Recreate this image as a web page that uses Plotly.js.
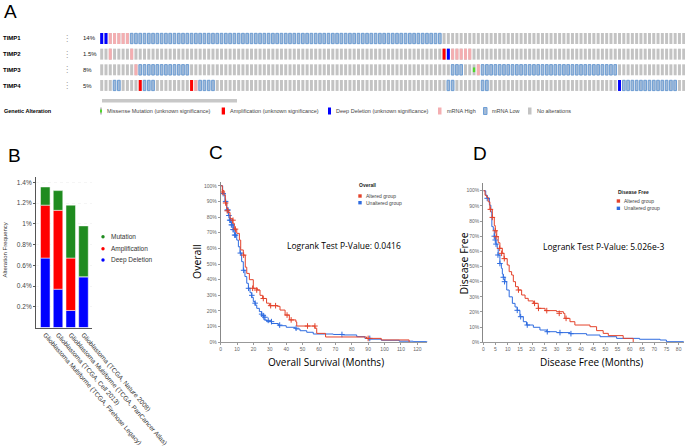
<!DOCTYPE html>
<html><head><meta charset="utf-8">
<script src="https://cdn.plot.ly/plotly-3.0.1.min.js"></script>
<style>html,body{margin:0;padding:0;background:#fff}#chart{width:685px;height:447px}</style>
</head><body><div id="chart"></div>
<script>
// ================= DATA =================
// ---- Panel A: oncoprint ----
const genes = ["TIMP1", "TIMP2", "TIMP3", "TIMP4"];
const genePct = ["14%", "1.5%", "8%", "5%"];
const nSamples = 137;
// runs: [alteration, firstSample, lastSample]
const timp1Runs = [["DEL",0,1],["HIGH",2,6],["LOW",7,79]];
const timp2Runs = [["HIGH",2,2],["HIGH",7,7],["AMP",80,80],["DEL",81,81],["HIGH",82,86]];
const timp3Runs = [["HIGH",8,8],["LOW",9,20],["LOW",82,84],["MIS",87,87],["HIGH",88,88],["LOW",89,120]];
const timp4Runs = [["LOW",3,4],["AMP",9,9],["LOW",10,12],["AMP",21,21],["HIGH",22,22],["LOW",23,26],["LOW",81,82],["LOW",89,90],["DEL",121,121],["LOW",122,134]];
const legendA = ["Missense Mutation (unknown significance)", "Amplification (unknown significance)", "Deep Deletion (unknown significance)", "mRNA High", "mRNA Low", "No alterations"];

// ---- Panel B: alteration frequency (%) ----
const studies = ["Glioblastoma Multiforme (TCGA, Firehose Legacy)", "Glioblastoma (TCGA, Cell 2013)", "Glioblastoma Multiforme (TCGA, PanCancer Atlas)", "Glioblastoma (TCGA, Nature 2008)"];
const deepDeletion = [0.67, 0.37, 0.165, 0.49];
const amplification = [0.51, 0.76, 0.505, 0];
const mutation = [0.175, 0.19, 0.51, 0.49];
const freqTicks = [0.2, 0.4, 0.6, 0.8, 1, 1.2, 1.4];
const freqTickText = ["0.2%", "0.4%", "0.6%", "0.8%", "1%", "1.2%", "1.4%"];

// ---- survival axes ticks ----
const pctTicks = [0, 10, 20, 30, 40, 50, 60, 70, 80, 90, 100];
const pctTickText = ["0%", "10%", "20%", "30%", "40%", "50%", "60%", "70%", "80%", "90%", "100%"];

// ---- Panel C: overall survival (months, % surviving) ----
const osAltT = [0, 1, 2, 2.8, 3.7, 4.5, 5.7, 7.3, 8.3, 9.8, 11.4, 12.2, 13.8, 15, 15.9, 17.5, 19.9, 22.4, 24, 25.6, 28, 29.7, 34.6, 36.2, 39.3, 41.9, 45.9, 46.4, 57.5, 58.6, 64, 89, 98, 115];
const osAltS = [100, 97, 94, 89, 85.5, 83, 79, 76, 72.3, 69.6, 65.3, 59, 55.7, 48, 44, 40, 34.5, 33.4, 30, 28, 25, 23.4, 23, 20.6, 17.4, 14.3, 13, 10.4, 9, 5.7, 3.4, 2.5, 1.5, 0];
const osAltCensT = [1, 3, 4, 7.5, 9, 14, 19.5, 22, 26, 30.5, 33.5, 40.5, 43, 53, 57.5, 90];
const osAltCensS = [96, 89, 84, 78, 72.3, 55.7, 34.5, 33.4, 28, 23.4, 23.4, 17.4, 14.3, 10.4, 10.4, 2.5];
const osUnaT = [0, 1.2, 2.6, 3.7, 4.7, 5.7, 6.7, 7.7, 8.7, 9.8, 10.8, 11.8, 12.8, 13.8, 14.8, 15.9, 16.9, 17.9, 18.9, 19.9, 21, 22, 23.6, 25, 26.4, 28, 31, 35.2, 40, 45.4, 48.4, 52.5, 56.5, 68.7, 74.8, 83, 88, 90, 98, 109, 117.5, 125.7, 127];
const osUnaS = [100, 95, 90, 84.5, 81, 78, 75, 72, 68.5, 65.3, 61, 57, 51.5, 46, 42, 37.7, 34.5, 31.7, 28.7, 26, 23.8, 21.7, 19.6, 17, 14.3, 13.2, 12, 10.6, 9.6, 8.5, 7.4, 6.4, 5.3, 5, 4.7, 3.6, 2.5, 2, 1.3, 0.7, 0.4, 0.2, 0.2];
const osUnaCensT = [1.5, 3, 4, 4.5, 5, 5.5, 6, 6.5, 7, 7.5, 8, 8.5, 9, 12, 14, 17, 19, 21, 25, 26, 27, 29, 31, 36, 46, 74, 91];
const osUnaCensS = [95, 90, 84.5, 84.5, 81, 78, 78, 75, 75, 72, 72, 68.5, 68.5, 57, 46, 34.5, 30, 25, 18, 17, 16, 14, 13.2, 11, 9, 5, 2.5];

// ---- Panel D: disease free (months, % disease free) ----
const dfAltT = [0, 0.7, 1.4, 2, 2.7, 3.7, 4.5, 4.9, 5.5, 6.1, 6.8, 7.8, 8.5, 9.8, 10.6, 11.6, 12.3, 13.2, 14.3, 15.7, 17.1, 18.4, 20.5, 22.5, 25.3, 30, 32.8, 33.4, 35.5, 37.5, 43.7, 46.4, 49.1, 51.2, 57.3, 61.4];
const dfAltS = [100, 97, 95.6, 92.7, 87.7, 82.4, 77, 73.6, 69.7, 65.7, 62, 58.7, 55.2, 51, 46.6, 44.4, 40, 36.7, 34.5, 31.2, 29, 27.3, 25.7, 22.4, 20.9, 20.2, 19.1, 15.8, 13.6, 11.4, 10.3, 7.7, 5.9, 4.4, 2.6, 0];
const dfAltCensT = [2.9, 3.7, 4.9, 5.3, 6.7, 7.5, 8.6, 14.4, 21, 22.6, 26, 31.1, 33.9];
const dfAltCensS = [87.7, 82.4, 73.6, 69.7, 62, 58.7, 55.2, 34.5, 25.7, 22.4, 20.9, 19.1, 15.8];
const dfUnaT = [0, 1, 1.6, 2.5, 3.1, 3.5, 4.1, 4.5, 4.9, 5.2, 5.7, 6.1, 6.8, 7.4, 7.8, 8.2, 8.9, 9.6, 10.6, 11.9, 13, 13.9, 15, 16.4, 17.7, 20.5, 23.2, 26, 30, 35.5, 42.3, 47.8, 54.6, 64, 72.4, 75, 82];
const dfUnaS = [100, 97, 95, 90.5, 86, 76.3, 74, 70, 67.5, 64.8, 62, 57.6, 52, 48.8, 45, 42.9, 40, 34.5, 30, 25.7, 23.3, 21.1, 16.9, 13.6, 11.4, 9.9, 8.1, 7, 6.4, 5.7, 4.8, 3.7, 2.6, 2, 1.5, 0.4, 0.2];
const dfUnaCensT = [1.6, 4.5, 4.9, 5.2, 6, 6.8, 8.2, 8.7, 13.9, 15.3, 18, 26.2, 31.4, 35.9];
const dfUnaCensS = [95, 70, 67.5, 64.8, 57.6, 52, 42.9, 40, 21.1, 16.9, 11.4, 7, 6.4, 5.7];

// ================= DRAWING =================
const W = 685, H = 447;
const px = x => x / W, py = y => 1 - y / H;
const traces = [];

// --- Panel A ---
const allRuns = [timp1Runs, timp2Runs, timp3Runs, timp4Runs];
function cellsOf(type) {
  const x = [], r = [];
  allRuns.forEach((runs, i) => runs.forEach(([t, a, z]) => {
    if (t === type) for (let c = a; c <= z; c++) { x.push(c); r.push(i); }
  }));
  return {x, r};
}
function cellBar(x, r, color, lineColor, lw, h, w) {
  return {type: 'bar', x: x, y: x.map(() => h), base: r.map(v => v - h / 2), width: w,
    xaxis: 'x', yaxis: 'y', marker: {color: color, line: {color: lineColor, width: lw}},
    hoverinfo: 'skip', showlegend: false};
}
{
  const gx = [], gr = [];
  genes.forEach((g, i) => { for (let c = 0; c < nSamples; c++) { gx.push(c); gr.push(i); } });
  traces.push(cellBar(gx, gr, '#c3c3c3', '#c3c3c3', 0, 0.7, 0.7));
  let d = cellsOf('LOW');  traces.push(cellBar(d.x, d.r, '#a3bad6', '#6e9fd6', 1, 0.66, 0.62));
  d = cellsOf('HIGH'); traces.push(cellBar(d.x, d.r, '#f4aeb1', '#f4aeb1', 0, 0.7, 0.7));
  d = cellsOf('AMP');  traces.push(cellBar(d.x, d.r, '#ff0000', '#ff0000', 0, 0.7, 0.7));
  d = cellsOf('DEL');  traces.push(cellBar(d.x, d.r, '#0000ff', '#0000ff', 0, 0.7, 0.7));
  d = cellsOf('MIS');  traces.push(cellBar(d.x, d.r, '#4fd62b', '#4fd62b', 0, 0.3, 0.55));
}

// --- Panel B ---
const delTop = deepDeletion.map((v, i) => v + amplification[i]);
function studyBar(vals, base, color) {
  return {type: 'bar', x: studies, y: vals, base: base, width: 0.75, xaxis: 'x2', yaxis: 'y2',
    marker: {color: color, line: {color: '#ffffff', width: 0.5}}, hoverinfo: 'skip', showlegend: false};
}
traces.push(studyBar(deepDeletion, deepDeletion.map(() => 0), '#0000ff'));
traces.push(studyBar(amplification, deepDeletion, '#ff0000'));
traces.push(studyBar(mutation, delTop, '#1f8b1f'));

// --- Panels C & D ---
const RED = '#e4432b', BLUE = '#2f6ce0';
function km(t, s, color, xa, ya) {
  return {type: 'scatter', mode: 'lines', x: t, y: s, xaxis: xa, yaxis: ya,
    line: {shape: 'hv', color: color, width: 1}, hoverinfo: 'skip', showlegend: false};
}
function cens(t, s, color, xa, ya) {
  return {type: 'scatter', mode: 'markers', x: t, y: s, xaxis: xa, yaxis: ya,
    marker: {symbol: 'cross-thin', size: 4, line: {color: color, width: 1}},
    hoverinfo: 'skip', showlegend: false};
}
traces.push(km(osUnaT, osUnaS, BLUE, 'x3', 'y3'), cens(osUnaCensT, osUnaCensS, BLUE, 'x3', 'y3'));
traces.push(km(osAltT, osAltS, RED, 'x3', 'y3'), cens(osAltCensT, osAltCensS, RED, 'x3', 'y3'));
traces.push(km(dfUnaT, dfUnaS, BLUE, 'x4', 'y4'), cens(dfUnaCensT, dfUnaCensS, BLUE, 'x4', 'y4'));
traces.push(km(dfAltT, dfAltS, RED, 'x4', 'y4'), cens(dfAltCensT, dfAltCensS, RED, 'x4', 'y4'));

// ================= LAYOUT =================
const hidden = {visible: false, showgrid: false, zeroline: false, fixedrange: true};
const ann = [];
const shapes = [];
const FONT = 'Liberation Sans, Arial, sans-serif';
const SEGOE = 'Open Sans, Noto Sans, sans-serif';
function txt(x, y, text, size, opts) {
  ann.push(Object.assign({xref: 'paper', yref: 'paper', x: px(x), y: py(y), text: text, showarrow: false,
    xanchor: 'left', yanchor: 'middle', font: {size: size, color: '#000', family: FONT}}, opts || {}));
}
// panel letters
txt(2, 11.5, 'A', 19); txt(6, 155, 'B', 19); txt(207, 152, 'C', 19); txt(471, 153, 'D', 19);
// oncoprint labels
const rowY = [38.5, 54.2, 69.9, 85.6];
genes.forEach((g, i) => {
  txt(1, rowY[i], '<b>' + g + '</b>', 6);
  txt(67, rowY[i], '⋮', 8, {xanchor: 'center', font: {size: 8, color: '#9a9a9a', family: 'DejaVu Sans'}});
  txt(81, rowY[i], genePct[i], 6, {font: {size: 6, color: '#222', family: FONT}});
});
// scroll bar
shapes.push({type: 'line', xref: 'paper', yref: 'paper', x0: px(102), x1: px(237), y0: py(100.8), y1: py(100.8), line: {color: '#c8c8c8', width: 3.5}});
// oncoprint legend
txt(2, 111, '<b>Genetic Alteration</b>', 5.5);
const legAx = [100, 221.7, 328, 438, 483.5, 528];
const legAw = [2, 3.3, 3, 3.5, 3.5, 3.5];
const legAc = ['#4fd62b', '#ff0000', '#0000ff', '#f4aeb1', '#a3bad6', '#c3c3c3'];
const legAl = ['#4fd62b', '#ff0000', '#0000ff', '#f4aeb1', '#6e9fd6', '#c3c3c3'];
legendA.forEach((t, i) => {
  const h = i === 0 ? 3 : 7;
  if (i === 0) shapes.push({type: 'rect', xref: 'paper', yref: 'paper', x0: px(100), x1: px(102), y0: py(114.5), y1: py(107.5), fillcolor: '#c3c3c3', line: {width: 0}});
  shapes.push({type: 'rect', xref: 'paper', yref: 'paper', x0: px(legAx[i]), x1: px(legAx[i] + legAw[i]),
    y0: py(111 + h / 2), y1: py(111 - h / 2), fillcolor: legAc[i], line: {color: legAl[i], width: i === 4 ? 1 : 0}});
  txt(legAx[i] + legAw[i] + 3, 111, t, 5.5, {font: {size: 5.5, color: '#444', family: FONT}});
});
// panel B legend + y title
txt(4.5, 250, 'Alteration Frequency', 6, {textangle: -90, xanchor: 'center', font: {size: 6, color: '#333', family: FONT}});
const legB = [['Mutation', '#1f8b1f', 236.7], ['Amplification', '#ff0000', 248.7], ['Deep Deletion', '#0000ff', 260]];
legB.forEach(([t, c, y]) => {
  shapes.push({type: 'circle', xref: 'paper', yref: 'paper', x0: px(101.3), x1: px(104.7), y0: py(y + 1.7), y1: py(y - 1.7), fillcolor: c, line: {width: 0}});
  txt(109, y, t, 6.5, {font: {size: 6.5, color: '#333', family: FONT}});
});
// panel C texts
txt(197, 262, 'Overall', 10.5, {textangle: -90, xanchor: 'center', font: {size: 10.5, color: '#000', family: SEGOE}});
txt(325.5, 361.5, 'Overall Survival (Months)', 10, {xanchor: 'center', font: {size: 10, color: '#000', family: SEGOE}});
txt(285, 245.3, 'Logrank Test P-Value: 0.0416', 8.5, {font: {size: 8.5, color: '#000', family: SEGOE}});
txt(357, 185, '<b>Overall</b>', 5, {font: {size: 5, color: '#222', family: FONT}});
// panel D texts
txt(463.5, 264, 'Disease Free', 10.5, {textangle: -90, xanchor: 'center', font: {size: 10.5, color: '#000', family: SEGOE}});
txt(591, 361.5, 'Disease Free (Months)', 10, {xanchor: 'center', font: {size: 10, color: '#000', family: SEGOE}});
txt(541, 246, 'Logrank Test P-Value: 5.026e-3', 8.5, {font: {size: 8.5, color: '#000', family: SEGOE}});
txt(615.5, 191.7, '<b>Disease Free</b>', 5, {font: {size: 5, color: '#222', family: FONT}});
function kmLegend(x, yR, yB) {
  [[yR, RED, 'Altered group'], [yB, BLUE, 'Unaltered group']].forEach(([y, c, t]) => {
    shapes.push({type: 'rect', xref: 'paper', yref: 'paper', x0: px(x), x1: px(x + 3.4), y0: py(y + 1.7), y1: py(y - 1.7), fillcolor: c, line: {width: 0}});
    txt(x + 5.5, y, t, 5, {font: {size: 5, color: '#444', family: FONT}});
  });
}
kmLegend(358.3, 196, 202.7);
kmLegend(616.7, 201, 208.3);

const kmX = (dom, range, dtick, anchor) => ({domain: dom, range: range, dtick: dtick, tick0: 0, anchor: anchor,
  showgrid: false, zeroline: false,
  showline: true, linecolor: '#999', linewidth: 1, ticks: 'outside', ticklen: 2, tickcolor: '#999',
  tickfont: {size: 5, color: '#666', family: FONT}, fixedrange: true});
const kmY = (dom, range, anchor) => ({domain: dom, range: range, anchor: anchor, tickmode: 'array', tickvals: pctTicks, ticktext: pctTickText,
  showgrid: false, zeroline: false, showline: true, linecolor: '#888', linewidth: 1, ticks: 'outside', ticklen: 2, tickcolor: '#999',
  tickfont: {size: 5, color: '#666', family: FONT}, fixedrange: true});

const layout = {
  width: W, height: H, margin: {l: 0, r: 0, t: 0, b: 0}, paper_bgcolor: '#fff', plot_bgcolor: 'rgba(0,0,0,0)',
  barmode: 'overlay', showlegend: false, font: {family: FONT},
  xaxis: Object.assign({}, hidden, {domain: [px(100), 1], range: [-0.4, 136.3], anchor: 'y'}),
  yaxis: Object.assign({}, hidden, {domain: [py(94), py(30)], range: [3.546, -0.543], anchor: 'x'}),
  xaxis2: {domain: [px(36), px(92)], range: [-0.73, 3.67], type: 'category', anchor: 'y2', showgrid: false, zeroline: false,
    showline: true, linecolor: '#555', linewidth: 1, ticks: '', tickangle: 49,
    tickfont: {size: 6.5, color: '#333', family: FONT}, fixedrange: true},
  yaxis2: {domain: [py(327.6), py(177)], range: [0, 1.451], anchor: 'x2', tickmode: 'array', tickvals: freqTicks, ticktext: freqTickText,
    showgrid: true, gridcolor: '#eeeeee', gridwidth: 0.6, griddash: 'dot', zeroline: false, showline: true, linecolor: '#555', linewidth: 1,
    ticks: 'outside', ticklen: 2, tickcolor: '#555', tickfont: {size: 6.5, color: '#444', family: FONT}, fixedrange: true},
  xaxis3: kmX([px(220.7), px(427.3)], [0, 126.1], 10, 'y3'),
  yaxis3: kmY([py(342.3), py(182)], [0, 102.4], 'x3'),
  xaxis4: kmX([px(483.3), px(684)], [0, 82.2], 5, 'y4'),
  yaxis4: kmY([py(342.3), py(182.7)], [0, 105.3], 'x4'),
  annotations: ann, shapes: shapes
};
Plotly.newPlot('chart', traces, layout, {staticPlot: true, displayModeBar: false});
</script></body></html>
